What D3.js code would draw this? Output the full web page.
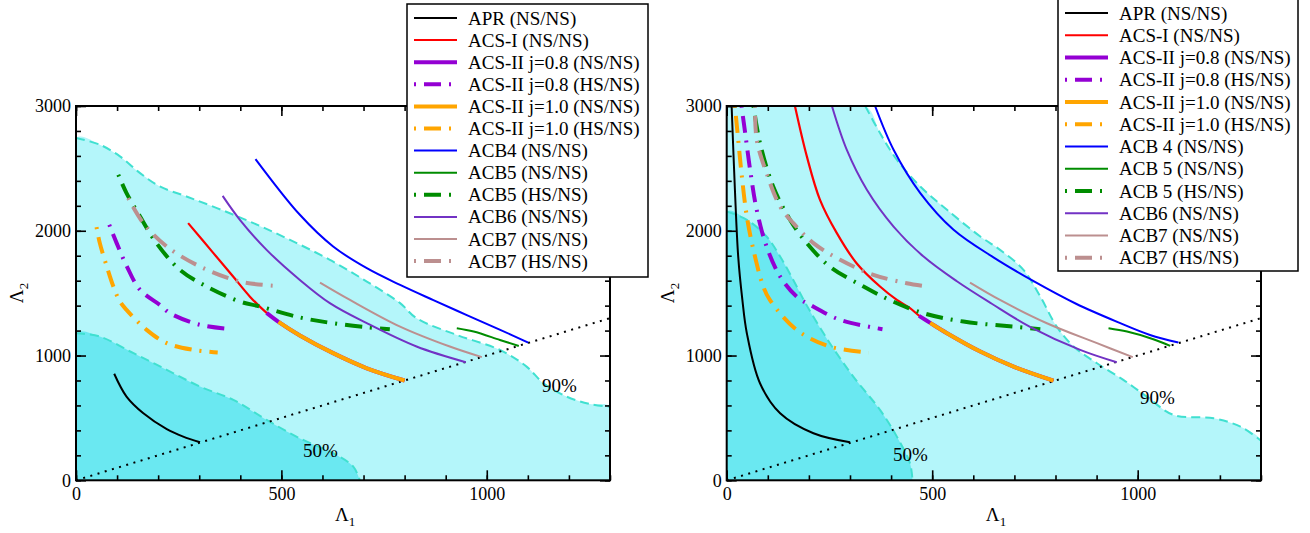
<!DOCTYPE html>
<html>
<head>
<meta charset="utf-8">
<script src="https://cdn.jsdelivr.net/npm/d3@7"></script>
<style>
  body { margin: 0; background: #fff; }
  svg { display: block; }
  text { font-family: "Liberation Serif", "Times New Roman", serif; fill: #000; }
</style>
</head>
<body>
<div id="chart"></div>
<script>
// ---- left panel data (Lambda1, Lambda2) ----
var L_c90 = [[0,2743],[58,2690],[107,2596],[156,2462],[204,2355],[269,2275],[343,2182],[432,2061],
             [521,1927],[618,1767],[708,1593],[789,1420],[829,1299],[927,1165],[1032,1045],[1097,911],
             [1138,778],[1194,671],[1251,612],[1300,590]];
var L_c50 = [[0,1179],[58,1152],[140,1019],[221,885],[302,751],[383,644],[464,484],[545,336],
             [626,217],[675,109],[691,0]];
var L_apr = [[93,854],[123,671],[164,537],[221,410],[261,350],[302,305]];
var L_acs1 = [[273,2061],[334,1823],[383,1631],[424,1470],[464,1342],[493,1270],[545,1161],[626,1019],[708,898],[800,800]];
var L_acs08 = [[464,1342],[493,1270],[545,1161],[626,1019],[708,898],[800,800]];
var L_acs08hs = [[81,2048],[99,1901],[124,1713],[156,1526],[204,1406],[229,1339],[302,1246],[379,1211]];
var L_acs10 = [[493,1270],[545,1161],[626,1019],[708,898],[800,800]];
var L_acs10hs = [[50,2029],[58,1901],[75,1713],[91,1553],[107,1433],[123,1366],[172,1206],[221,1099],[286,1045],[345,1024]];
var L_acb4 = [[437,2575],[545,2128],[626,1874],[708,1700],[789,1566],[870,1444],[950,1326],[1030,1210],[1101,1104]];
var L_acb5 = [[927,1219],[968,1192],[1032,1125],[1078,1077]];
var L_acb5hs = [[103,2449],[123,2302],[156,2114],[196,1901],[253,1687],[318,1553],[399,1433],[448,1393],
                [545,1305],[626,1259],[708,1227],[764,1211]];
var L_acb6 = [[357,2280],[399,2088],[464,1847],[545,1606],[618,1420],[708,1259],[829,1072],[949,946]];
var L_acb7 = [[594,1585],[667,1446],[789,1232],[910,1072],[988,987]];
var L_acb7hs = [[127,2262],[164,2061],[221,1874],[302,1713],[399,1593],[489,1558]];

// ---- right panel data ----
var R_c90 = [[0,3000],[337,3000],[373,2783],[414,2569],[471,2355],[536,2168],[617,1954],[665,1847],
             [722,1687],[763,1473],[803,1232],[844,1072],[901,938],[965,805],[1022,671],
             [1087,524],[1185,497],[1250,430],[1300,318]];
var R_c50 = [[0,2155],[49,2088],[97,1954],[130,1793],[162,1606],[195,1400],[251,1099],[308,831],
             [373,564],[414,350],[446,136],[452,0]];
var R_apr = [[12,3000],[20,2329],[28,1793],[38,1450],[49,1179],[81,778],[130,537],[211,377],[300,305]];
var R_acs1 = [[166,3000],[195,2596],[227,2248],[268,1981],[316,1740],[373,1553],[414,1446],[446,1380],
              [471,1312],[536,1179],[617,1032],[698,911],[795,799]];
var R_acs08 = [[468,1318],[495,1262],[536,1179],[617,1032],[698,911],[795,799]];
var R_acs08hs = [[36,3000],[45,2783],[57,2489],[73,2168],[97,1874],[130,1633],[170,1473],[203,1406],[276,1286],[379,1211]];
var R_acs10 = [[495,1262],[536,1179],[617,1032],[698,911],[795,799]];
var R_acs10hs = [[20,3000],[28,2730],[36,2462],[49,2114],[65,1847],[89,1553],[105,1446],[170,1206],[251,1072],[346,1024]];
var R_acb4 = [[361,3000],[406,2649],[471,2302],[552,2008],[650,1785],[750,1590],[850,1415],[950,1270],[1030,1165],[1099,1104]];
var R_acb5 = [[929,1219],[974,1192],[1038,1131],[1079,1077]];
var R_acb5hs = [[65,3000],[81,2703],[113,2355],[154,2088],[195,1901],[251,1713],[333,1553],[400,1440],
                [479,1339],[576,1272],[698,1232],[763,1211]];
var R_acb6 = [[256,3000],[292,2650],[341,2329],[406,2034],[479,1793],[560,1595],[645,1415],[738,1230],[860,1045],[949,946]];
var R_acb7 = [[592,1585],[665,1446],[779,1259],[901,1099],[988,987]];
var R_acb7hs = [[69,3000],[73,2730],[97,2462],[130,2195],[162,2061],[211,1901],[276,1767],[357,1647],[438,1580],[491,1553]];

var diag = [[0,0],[1300,1300]];

var xMajor = [0, 500, 1000];
var yMajor = [0, 1000, 2000, 3000];

var keys = ["apr","acs1","acs08","acs08hs","acs10","acs10hs","acb4","acb5","acb5hs","acb6","acb7","acb7hs"];
var leftNames = ["APR (NS/NS)","ACS-I (NS/NS)","ACS-II j=0.8 (NS/NS)","ACS-II j=0.8 (HS/NS)",
  "ACS-II j=1.0 (NS/NS)","ACS-II j=1.0 (HS/NS)","ACB4 (NS/NS)","ACB5 (NS/NS)","ACB5 (HS/NS)",
  "ACB6 (NS/NS)","ACB7 (NS/NS)","ACB7 (HS/NS)"];
var rightNames = ["APR (NS/NS)","ACS-I (NS/NS)","ACS-II j=0.8 (NS/NS)","ACS-II j=0.8 (HS/NS)",
  "ACS-II j=1.0 (NS/NS)","ACS-II j=1.0 (HS/NS)","ACB 4 (NS/NS)","ACB 5 (NS/NS)","ACB 5 (HS/NS)",
  "ACB6 (NS/NS)","ACB7 (NS/NS)","ACB7 (HS/NS)"];

var dashdot = "2,8,17,8";
var styles = {
  apr:     {c: "#000000", w: 2},
  acs1:    {c: "#ff0000", w: 2.2},
  acs08:   {c: "#9400d3", w: 4},
  acs08hs: {c: "#9400d3", w: 4, d: dashdot},
  acs10:   {c: "#ffa500", w: 4},
  acs10hs: {c: "#ffa500", w: 4, d: dashdot},
  acb4:    {c: "#0000ff", w: 2},
  acb5:    {c: "#008c00", w: 2},
  acb5hs:  {c: "#008c00", w: 4, d: dashdot},
  acb6:    {c: "#7232c4", w: 2},
  acb7:    {c: "#bc8f8f", w: 2},
  acb7hs:  {c: "#bc8f8f", w: 4, d: dashdot}
};
var fill90 = "#b4f6fa", fill50 = "#6ae8f1";

var W = 1310, H = 533;
var svg = d3.select("#chart").append("svg").attr("width", W).attr("height", H);
var defs = svg.append("defs");

function drawPanel(id, x0, x1, data, names, legendBox, labels) {
  var x = d3.scaleLinear().domain([0, 1300]).range([x0, x1]);
  var y = d3.scaleLinear().domain([0, 3000]).range([480.3, 106]);
  var line = d3.line().x(d => x(d[0])).y(d => y(d[1])).curve(d3.curveCatmullRom);

  defs.append("clipPath").attr("id", "clip" + id).append("rect")
    .attr("x", x0).attr("y", 106).attr("width", x1 - x0).attr("height", 480.3 - 106);

  var g = svg.append("g").attr("clip-path", "url(#clip" + id + ")");

  // shaded credible regions
  g.append("path").attr("d", line([[0, 0]].concat(data.c90, [[1300, 0]])) + "Z")
    .attr("fill", fill90);
  g.append("path").attr("d", line([[0, 0]].concat(data.c50)) + "Z")
    .attr("fill", fill50);

  [data.c90, data.c50].forEach(function (c) {
    var pts = c[0][1] === 3000 && c[1][1] === 3000 ? c.slice(1) : c;
    g.append("path").attr("d", line(pts)).attr("fill", "none")
      .attr("stroke", "#40e0d0").attr("stroke-width", 2).attr("stroke-dasharray", "9,5");
  });

  // equal-Lambda line
  g.append("path").attr("d", d3.line().x(d => x(d[0])).y(d => y(d[1]))(diag))
    .attr("fill", "none").attr("stroke", "#000").attr("stroke-width", 2)
    .attr("stroke-dasharray", "2,5.5");

  keys.forEach(function (k) {
    var s = styles[k];
    g.append("path").attr("d", line(data[k])).attr("fill", "none")
      .attr("stroke", s.c).attr("stroke-width", s.w)
      .attr("stroke-dasharray", s.d || null);
  });

  // percentage labels
  labels.forEach(function (l) {
    svg.append("text").attr("x", l.x).attr("y", l.y).attr("font-size", 19).text(l.t);
  });

  // axes with inward ticks on all four sides
  var minorX = d3.range(0, 1301, 100), minorY = d3.range(0, 3001, 200);
  function ax(gen, tr, vals, size, fmt, pad) {
    var a = svg.append("g").attr("transform", tr)
      .call(gen.tickValues(vals).tickSize(size).tickPadding(pad || 3).tickFormat(fmt));
    a.select(".domain").remove();
    a.selectAll("line").attr("stroke", "#000").attr("stroke-width", 1.6);
    a.selectAll("text").attr("font-size", 18).attr("font-family", "Liberation Serif, Times New Roman, serif");
    return a;
  }
  ax(d3.axisBottom(x), "translate(0,480.3)", minorX, -5, "");
  ax(d3.axisBottom(x), "translate(0,480.3)", xMajor, -10, d3.format("d"), 7);
  ax(d3.axisTop(x), "translate(0,106)", minorX, -5, "");
  ax(d3.axisTop(x), "translate(0,106)", xMajor, -10, "");
  ax(d3.axisLeft(y), "translate(" + x0 + ",0)", minorY, -5, "");
  ax(d3.axisLeft(y), "translate(" + x0 + ",0)", yMajor, -10, d3.format("d"), 5);
  ax(d3.axisRight(y), "translate(" + x1 + ",0)", minorY, -5, "");
  ax(d3.axisRight(y), "translate(" + x1 + ",0)", yMajor, -10, "");

  svg.append("rect").attr("x", x0).attr("y", 106).attr("width", x1 - x0).attr("height", 480.3 - 106)
    .attr("fill", "none").attr("stroke", "#000").attr("stroke-width", 2);

  // axis titles
  var cx = (x0 + x1) / 2;
  var t1 = svg.append("text").attr("x", cx - 8).attr("y", 521).attr("font-size", 19);
  t1.append("tspan").text("\u039B");
  t1.append("tspan").attr("font-size", 13).attr("dy", 5).text("1");
  var t2 = svg.append("text").attr("transform", "translate(" + (x0 - 53) + ",293) rotate(-90)")
    .attr("text-anchor", "middle").attr("font-size", 19);
  t2.append("tspan").text("\u039B");
  t2.append("tspan").attr("font-size", 13).attr("dy", 5).text("2");

  // legend
  var lg = svg.append("g");
  lg.append("rect").attr("x", legendBox.x).attr("y", legendBox.y).attr("width", legendBox.w)
    .attr("height", legendBox.h).attr("fill", "#fff").attr("stroke", "#000").attr("stroke-width", 1.5);
  keys.forEach(function (k, i) {
    var s = styles[k];
    var ry = legendBox.row0 + i * legendBox.step;
    lg.append("line").attr("x1", legendBox.x + 7).attr("x2", legendBox.x + 50)
      .attr("y1", ry).attr("y2", ry).attr("stroke", s.c)
      .attr("stroke-width", k === "acs08" || k === "acs10" || s.d ? 4 : 2)
      .attr("stroke-dasharray", s.d || null);
    lg.append("text").attr("x", legendBox.x + 61).attr("y", ry + 6.5)
      .attr("font-size", 19).text(names[i]);
  });
}

var leftData = {c90: L_c90, c50: L_c50, apr: L_apr, acs1: L_acs1, acs08: L_acs08, acs08hs: L_acs08hs,
  acs10: L_acs10, acs10hs: L_acs10hs, acb4: L_acb4, acb5: L_acb5, acb5hs: L_acb5hs, acb6: L_acb6,
  acb7: L_acb7, acb7hs: L_acb7hs};
var rightData = {c90: R_c90, c50: R_c50, apr: R_apr, acs1: R_acs1, acs08: R_acs08, acs08hs: R_acs08hs,
  acs10: R_acs10, acs10hs: R_acs10hs, acb4: R_acb4, acb5: R_acb5, acb5hs: R_acb5hs, acb6: R_acb6,
  acb7: R_acb7, acb7hs: R_acb7hs};

drawPanel("L", 76, 610, leftData, leftNames,
  {x: 407, y: 4, w: 241, h: 273, row0: 18, step: 22.1},
  [{x: 303, y: 457, t: "50%"}, {x: 542, y: 392, t: "90%"}]);
drawPanel("R", 726.7, 1261, rightData, rightNames,
  {x: 1058, y: -1, w: 240, h: 272, row0: 13, step: 22.25},
  [{x: 893, y: 461, t: "50%"}, {x: 1140, y: 404, t: "90%"}]);
</script>
</body>
</html>
